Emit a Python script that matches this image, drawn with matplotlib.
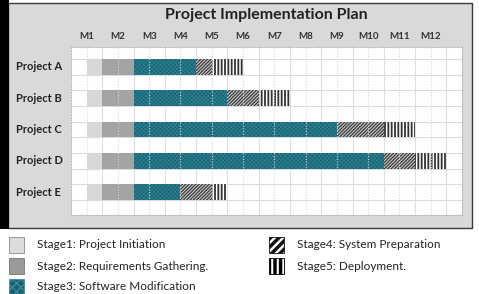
import numpy as np
import matplotlib
matplotlib.use("Agg")
import matplotlib.pyplot as plt
import matplotlib.patches as mpatches
import matplotlib.transforms as mtransforms

# data (months)
projects = ["Project A", "Project B", "Project C", "Project D", "Project E"]
months = ["M1", "M2", "M3", "M4", "M5", "M6", "M7", "M8", "M9", "M10", "M11", "M12"]
start = [0.5, 0.5, 0.5, 0.5, 0.5]
stage1 = [0.5, 0.5, 0.5, 0.5, 0.5]
stage2 = [1, 1, 1, 1, 1]
stage3 = [2, 3, 6.5, 8, 1.5]
stage4 = [0.5, 1, 1.5, 1, 1]
stage5 = [1, 1, 1, 1, 0.5]
stage_names = ["Stage1: Project Initiation", "Stage2: Requirements Gathering.",
               "Stage3: Software Modification", "Stage4: System Preparation",
               "Stage5: Deployment."]

# --- style ---
W, H = 479, 294
FONT = "Lato"
plt.rcParams["font.family"] = [FONT, "DejaVu Sans"]
plt.rcParams["hatch.linewidth"] = 0.9

styles = [
    dict(facecolor="#d8d8d8", edgecolor="#d8d8d8", hatch=None, hlw=0.9),
    dict(facecolor="#a3a3a3", edgecolor="#a3a3a3", hatch=None, hlw=0.9),
    dict(facecolor="#1a6575", edgecolor="#2c7f8f", hatch="xxxxxxxx", hlw=0.6),
    dict(facecolor="#c8c8c8", edgecolor="#3c3c3c", hatch="//////////", hlw=0.9),
    dict(facecolor="#ffffff", edgecolor="#333333", hatch="|||||", hlw=1.3),
]


def fx(x):
    return x / W


def fy(y):
    return 1 - y / H


fig = plt.figure(figsize=(W / 100, H / 100), dpi=100)
fig.patch.set_facecolor("white")

# panel background + black left bar
fig.patches.append(mpatches.Rectangle((fx(8), fy(228)), fx(472 - 8), (228 - 3) / H,
                                      transform=fig.transFigure, facecolor="#d9d9d9",
                                      edgecolor="#3a3a3a", linewidth=1.0, zorder=0))
fig.patches.append(mpatches.Rectangle((0, fy(229)), fx(9), 229 / H,
                                      transform=fig.transFigure, facecolor="black",
                                      edgecolor="none", zorder=0))

ax = fig.add_axes([fx(71), fy(214.5), fx(462 - 71), (214.5 - 47) / H])
ax.set_zorder(2)
ax.set_facecolor("white")
ax.set_xlim(0, 12.5)
ax.set_ylim(4.72, -0.64)

# grid
for yv in np.arange(-0.25, 4.3, 0.5):
    ax.axhline(yv, color="#d9dce6", lw=0.8, zorder=0.5)
for xv in np.arange(1, 13):
    ax.axvline(xv, color="#dedede", lw=0.8, zorder=0.5)

# bars
y = np.arange(len(projects))
left = np.array(start, dtype=float)
for vals, st in zip([stage1, stage2, stage3, stage4, stage5], styles):
    with plt.rc_context({"hatch.linewidth": st["hlw"]}):
        ax.barh(y, vals, left=left, height=0.5, facecolor=st["facecolor"],
                edgecolor=st["edgecolor"], hatch=st["hatch"], linewidth=0, zorder=2)
    left = left + np.array(vals)

# dotted month-centre lines above the bars
for xv in np.arange(0.5, 12.5, 1):
    ax.axvline(xv, color="#c8dce0", lw=0.8, ls=(0, (1, 1.5)), zorder=3)

ax.xaxis.tick_top()
ax.set_xticks(np.arange(0.5, 12, 1))
ax.set_xticklabels(months, fontsize=7, fontweight="bold", color="#333333")
ax.tick_params(axis="x", length=0, pad=4)
ax.set_yticks([])
for s in ax.spines.values():
    s.set_color("#bbbbbb")
    s.set_linewidth(0.8)
    s.set_linestyle((0, (1, 1.5)))

trans = mtransforms.blended_transform_factory(ax.transAxes, ax.transData)
for i, name in enumerate(projects):
    ax.text((16 - 71) / 391, i, name, transform=trans, ha="left", va="center",
            fontsize=8, fontweight="bold", color="#222222")

fig.text(fx(266), fy(15), "Project Implementation Plan", ha="center", va="center",
         fontsize=11.5, fontweight="bold", color="#222222")

# legend
leg_pos = [(9, 245), (9, 266), (9, 287), (269, 245), (269, 266)]
leg_styles = [
    dict(facecolor="#dcdcdc", edgecolor="#888888", hatch=None, hlw=0.9),
    dict(facecolor="#9a9a9a", edgecolor="#777777", hatch=None, hlw=0.9),
    dict(facecolor="#17606f", edgecolor="#3f8d9c", hatch="xxxx", hlw=0.9),
    dict(facecolor="#ffffff", edgecolor="#111111", hatch="////", hlw=2.5),
    dict(facecolor="#ffffff", edgecolor="#000000", hatch="|||", hlw=2.5),
]
for (px, py), name, st in zip(leg_pos, stage_names, leg_styles):
    with plt.rc_context({"hatch.linewidth": st["hlw"]}):
        r = mpatches.Rectangle((fx(px), fy(py + 8)), 15 / W, 16 / H, transform=fig.transFigure,
                               facecolor=st["facecolor"], edgecolor=st["edgecolor"],
                               hatch=st["hatch"], linewidth=0.6)
    fig.patches.append(r)
    fig.text(fx(px + 28), fy(py), name, ha="left", va="center", fontsize=8.5,
             color="#222222")

fig.savefig("out.png", dpi=100, facecolor="white")
